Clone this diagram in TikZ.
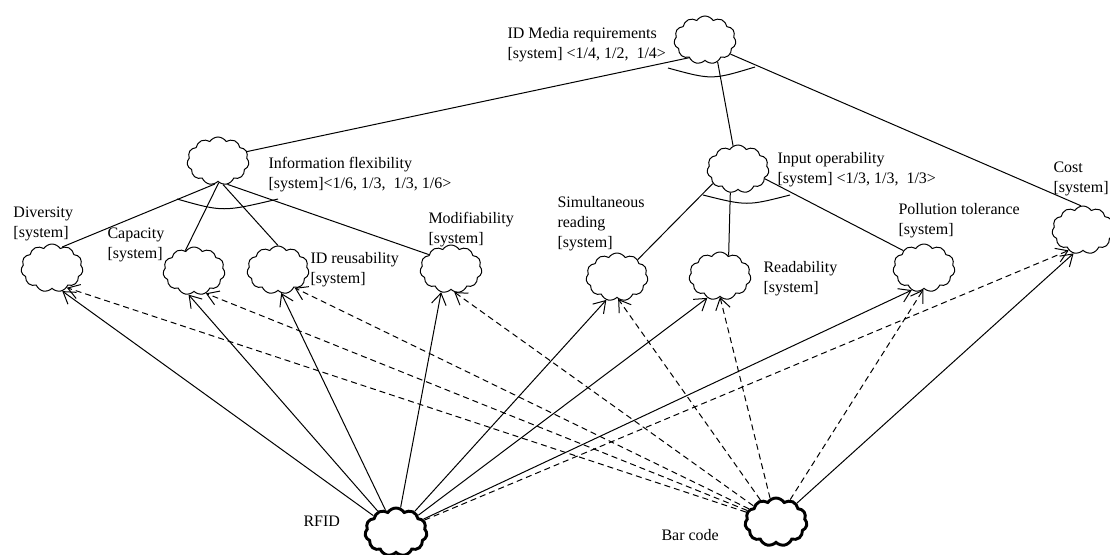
\documentclass[tikz,border=0pt]{standalone}
\usepackage{fontspec}
\setmainfont{Liberation Serif}
\usetikzlibrary{shapes.symbols,arrows.meta}
\begin{document}
\begin{tikzpicture}[x=0.75pt,y=-0.75pt,
  line width=0.75pt,
  goal/.style={cloud, draw, cloud puffs=11, cloud puff arc=115, cloud ignores aspect,
    minimum width=46.5pt, minimum height=36pt, inner sep=0pt},
  medium/.style={goal, line width=2.2pt},
  lbl/.style={anchor=north west, inner sep=0pt, align=left, font=\fontsize{12}{15}\selectfont},
  link/.style={line width=0.75pt},
  contrib/.style={-{Straight Barb[length=8.5pt,width=11pt]}, line width=0.75pt},
  weak/.style={contrib, dash pattern=on 4.5pt off 3pt},
]
\useasboundingbox (0,0) rectangle (1110,554);

% goal clouds
\node[goal] (top)  at (705,40)  {};
\node[goal] (info) at (218,161) {};
\node[goal] (inop) at (738,169) {};
\node[goal] (cost) at (1083,230) {};
\node[goal] (div)  at (52,268)  {};
\node[goal] (cap)  at (194,271) {};
\node[goal] (idr)  at (278,270) {};
\node[goal] (mod)  at (451,269) {};
\node[goal] (sim)  at (617,277) {};
\node[goal] (read) at (720,276) {};
\node[goal] (poll) at (924,268) {};

% the two media
\node[medium] (rfid) at (396,532) {};
\node[medium] (bar)  at (776,522) {};

% labels
\node[lbl] (tTop)  at (507,27)  {ID Media requirements\\{}[system] <1/4, 1/2, \ 1/4>};
\node[lbl] (tInfo) at (268,157) {Information flexibility\\{}[system]<1/6, 1/3, \ 1/3, 1/6>};
\node[lbl] (tInop) at (777,152) {Input operability\\{}[system] <1/3, 1/3, \ 1/3>};
\node[lbl] (tCost) at (1053,161) {Cost\\{}[system]};
\node[lbl] (tDiv)  at (13,206)  {Diversity\\{}[system]};
\node[lbl] (tCap)  at (107,227) {Capacity\\{}[system]};
\node[lbl] (tIdr)  at (310,252) {ID reusability\\{}[system]};
\node[lbl] (tMod)  at (428,212) {Modifiability\\{}[system]};
\node[lbl] (tSim)  at (557,196) {Simultaneous\\reading\\{}[system]};
\node[lbl] (tRead) at (763,261) {Readability\\{}[system]};
\node[lbl] (tPoll) at (898,203) {Pollution tolerance\\{}[system]};
\node[lbl] (tRfid) at (303,516) {RFID};
\node[lbl] (tBar)  at (661,529) {Bar code};

% decomposition links
\draw[link] (top.228) -- (info.18);
\draw[link] (top.300) -- (inop.102);
\draw[link] (top.331) -- (cost.95);
\draw[link] (info.262) -- (div.64);
\draw[link] (info.272) -- (cap.113);
\draw[link] (info.282) -- (idr.90);
\draw[link] (info.292) -- (mod.147);
\draw[link] (inop.210) -- (sim.40);
\draw[link] (inop.252) -- (read.67);
\draw[link] (inop.340) -- (poll.140);

% AND arcs
\draw[link] (668,68) .. controls (712,80) .. (755,67);
\draw[link] (177,199) .. controls (223,212) .. (278,199);
\draw[link] (703,195) .. controls (747,206) .. (790,195);

% contributions of RFID
\draw[contrib] (rfid) -- (div.294);
\draw[contrib] (rfid) -- (cap.257);
\draw[contrib] (rfid) -- (idr.278);
\draw[contrib] (rfid) -- (mod.247);
\draw[contrib] (rfid) -- (sim.245);
\draw[contrib] (rfid) -- (read.240);
\draw[contrib] (rfid) -- (poll.241);
\draw[weak]    (rfid) -- (cost.235);

% contributions of bar code
\draw[weak]    (bar) -- (div.307);
\draw[weak]    (bar) -- (cap.298);
\draw[weak]    (bar) -- (idr.313);
\draw[weak]    (bar) -- (mod.278);
\draw[weak]    (bar) -- (sim.273);
\draw[weak]    (bar) -- (read.270);
\draw[weak]    (bar) -- (poll.268);
\draw[contrib] (bar) -- (cost.248);
\end{tikzpicture}
\end{document}
